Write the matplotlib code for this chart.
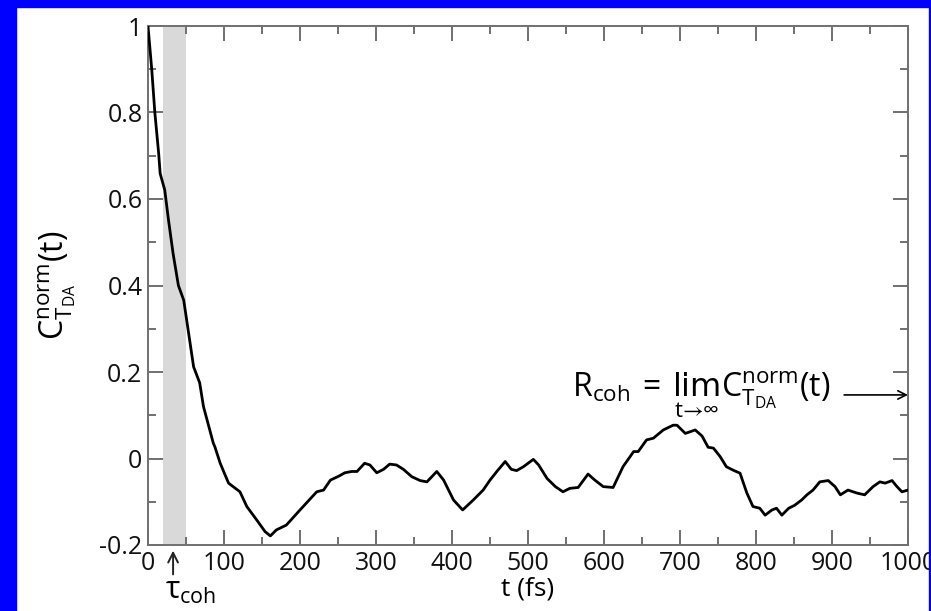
import numpy as np
import matplotlib
matplotlib.use('Agg')
import matplotlib.pyplot as plt
from matplotlib.patches import Rectangle
from matplotlib.ticker import MultipleLocator

plt.rcParams['font.family'] = ['Open Sans', 'DejaVu Sans']
plt.rcParams['axes.unicode_minus'] = False

# Normalised T_DA autocorrelation
t_fs = [0, 5, 9, 14, 16, 22, 27, 33, 40, 47, 60, 68, 73, 86, 88, 95, 106, 121, 130,
        143, 154, 161, 169, 182, 200, 222, 231, 240, 252, 259, 268, 275, 285, 292,
        301, 310, 318, 327, 336, 347, 358, 367, 380, 389, 402, 414, 428, 441, 450,
        459, 470, 478, 485, 494, 507, 514, 525, 536, 546, 555, 566, 579, 588, 599,
        612, 625, 639, 645, 656, 665, 678, 691, 696, 707, 720, 729, 737, 744, 753,
        761, 770, 779, 788, 796, 805, 812, 821, 827, 834, 843, 851, 860, 867, 875,
        884, 895, 904, 911, 921, 933, 943, 954, 963, 970, 979, 985, 992, 1000]
c_norm = [1.0, 0.898, 0.80, 0.706, 0.659, 0.621, 0.551, 0.474, 0.40, 0.366, 0.212,
          0.175, 0.12, 0.035, 0.027, -0.011, -0.057, -0.077, -0.111, -0.142, -0.169,
          -0.179, -0.165, -0.154, -0.119, -0.077, -0.073, -0.050, -0.040, -0.033,
          -0.030, -0.030, -0.011, -0.015, -0.033, -0.025, -0.013, -0.015, -0.025,
          -0.042, -0.051, -0.054, -0.030, -0.050, -0.096, -0.119, -0.096, -0.073,
          -0.050, -0.030, -0.007, -0.025, -0.028, -0.019, -0.002, -0.015, -0.046,
          -0.065, -0.077, -0.069, -0.067, -0.036, -0.050, -0.065, -0.067, -0.019,
          0.016, 0.016, 0.043, 0.047, 0.066, 0.077, 0.077, 0.058, 0.066, 0.052,
          0.026, 0.024, 0.004, -0.019, -0.027, -0.034, -0.080, -0.111, -0.115,
          -0.131, -0.119, -0.115, -0.131, -0.115, -0.108, -0.096, -0.084, -0.073,
          -0.054, -0.051, -0.065, -0.084, -0.073, -0.080, -0.084, -0.065, -0.054,
          -0.057, -0.051, -0.064, -0.077, -0.073]
tau_window = (20, 50)
tau_coh = 33

fig = plt.figure(figsize=(9.31, 6.11), dpi=100, facecolor='white')
ax = fig.add_axes([148 / 931, 1 - 545 / 611, 760 / 931, 519 / 611])

ax.axvspan(*tau_window, color='#d9d9d9', lw=0, zorder=0)
ax.plot(t_fs, c_norm, color='black', lw=2.0, solid_joinstyle='round', zorder=3)

ax.set_xlim(0, 1000)
ax.set_ylim(-0.2, 1.0)
ax.xaxis.set_major_locator(MultipleLocator(100))
ax.xaxis.set_minor_locator(MultipleLocator(50))
ax.yaxis.set_major_locator(MultipleLocator(0.2))
ax.yaxis.set_minor_locator(MultipleLocator(0.1))
ax.yaxis.set_major_formatter(plt.FuncFormatter(lambda v, p: '%g' % round(v, 1)))

for s in ax.spines.values():
    s.set_color('#707070')
    s.set_linewidth(1.4)
ax.tick_params(which='both', direction='in', top=True, right=True,
               color='#707070', width=1.4, labelsize=18, labelcolor='#111111')
ax.tick_params(which='major', length=11, pad=4)
ax.tick_params(which='minor', length=6)

ax.set_xlabel('t (fs)', fontsize=19, labelpad=1)
fig.text(57 / 931, 1 - 285 / 611, r'$\mathregular{C_{T_{DA}}^{norm}(t)}$',
         fontsize=23, rotation=90, ha='center', va='center')

# tau_coh marker under the axis
ax.annotate('', xy=(tau_coh, -0.213), xytext=(tau_coh, -0.268),
            xycoords='data', annotation_clip=False,
            arrowprops=dict(arrowstyle='->,head_length=0.7,head_width=0.35',
                            color='#222222', lw=1.4, shrinkA=0, shrinkB=0))
ax.text(tau_coh - 11, -0.272, r'$\mathregular{\tau_{coh}}$', fontsize=22,
        ha='left', va='top', clip_on=False, transform=ax.transData)

# R_coh definition
ax.text(558, 0.147,
        r'$\mathregular{R_{coh}\,=\,\lim_{t\rightarrow\infty}C_{T_{DA}}^{norm}(t)}$',
        fontsize=23, ha='left', va='center')
ax.annotate('', xy=(1000, 0.147), xytext=(916, 0.147),
            arrowprops=dict(arrowstyle='->,head_length=0.6,head_width=0.3',
                            color='black', lw=1.2, shrinkA=0, shrinkB=0))

# blue frame
blue = '#0000ff'
for r in [(0, 0, 16 / 931, 1), (0, 1 - 7 / 611, 1, 7 / 611), (929 / 931, 0, 2 / 931, 1)]:
    fig.patches.append(Rectangle(r[:2], r[2], r[3], transform=fig.transFigure,
                                 color=blue, zorder=10))

fig.savefig('out.png', dpi=100, facecolor='white')
